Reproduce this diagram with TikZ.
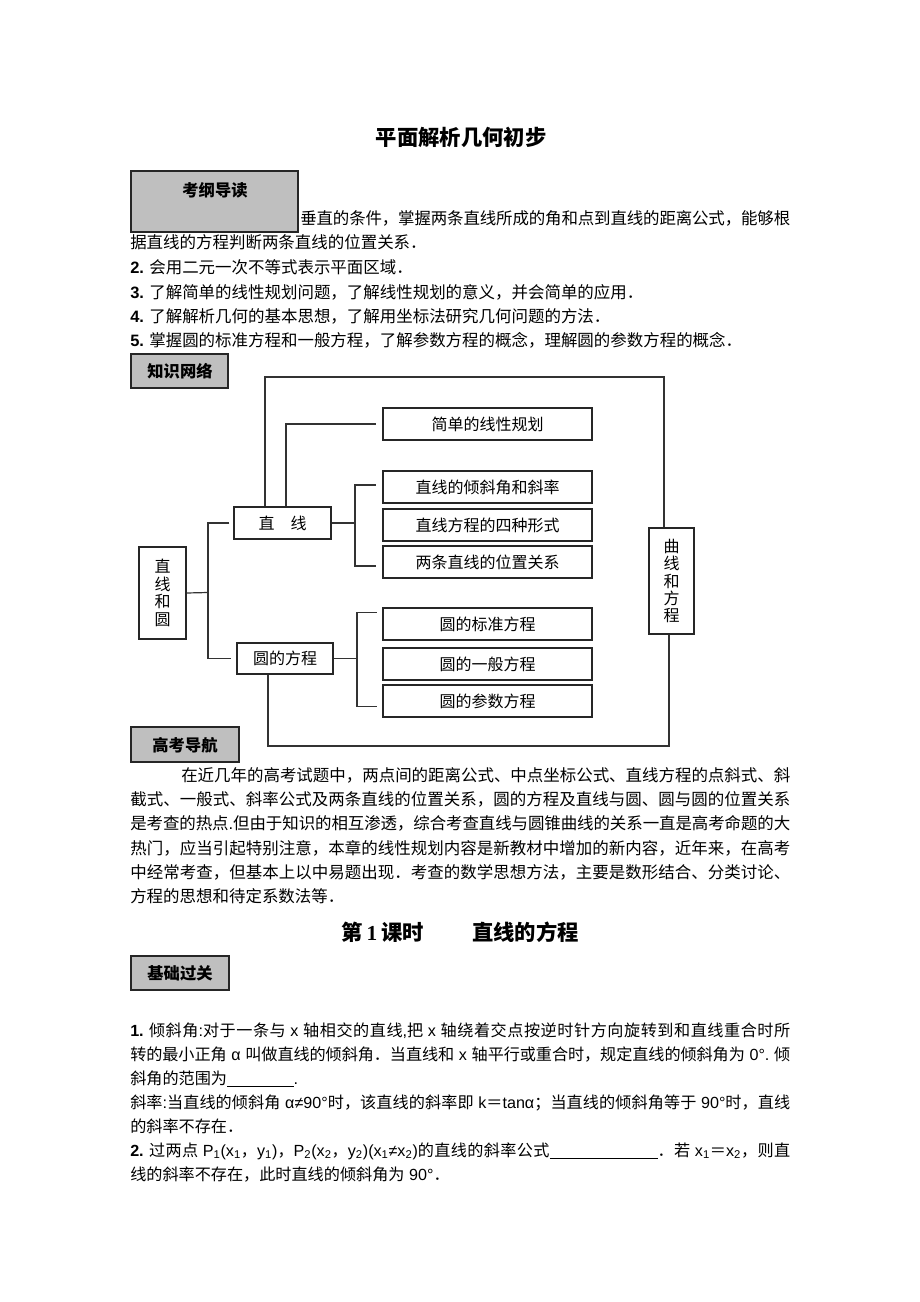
\documentclass[tikz,border=0pt]{standalone}
\usepackage{fontspec}
\setmainfont{Noto Sans CJK SC}
\newfontfamily\lat{Liberation Sans}
\newfontfamily\latserif{Liberation Serif}
\usetikzlibrary{calc,fit}
\newcommand\mycjkglue{\hskip0pt plus 1fil minus 0.5pt\relax}
\newcommand\mysp{\hspace{3.5pt}}
\newcount\mycharcnt
\mycharcnt="4E00
\loop
  \XeTeXcharclass\mycharcnt=1
  \advance\mycharcnt by 1
\ifnum\mycharcnt<"A000 \repeat
\mycharcnt="3001
\loop
  \XeTeXcharclass\mycharcnt=1
  \advance\mycharcnt by 1
\ifnum\mycharcnt<"3040 \repeat
\mycharcnt="FF01
\loop
  \XeTeXcharclass\mycharcnt=1
  \advance\mycharcnt by 1
\ifnum\mycharcnt<"FF5F \repeat
\XeTeXinterchartoks 1 1 = {\mycjkglue}
\XeTeXinterchartoks 0 1 = {\mycjkglue}
\XeTeXinterchartoks 1 0 = {\mycjkglue}
\XeTeXinterchartokenstate=1
\tikzset{
  bx/.style={draw=black!85, line width=0.9pt, inner sep=0pt},
  bxt/.style={inner sep=0pt, font=\fontsize{12}{13.1}\selectfont},
  bxv/.style={inner sep=0pt, align=center, font=\fontsize{12}{13.1}\selectfont},
  cn/.style={draw=black!80, line width=0.9pt},
  hd/.style={draw=black!85, line width=1pt, fill=black!25, inner sep=0pt},
  hdt/.style={inner sep=0pt, font=\fontsize{12.2}{14}\selectfont\bfseries},
  tl/.style={anchor=west, inner sep=0pt, font=\fontsize{12.35}{14}\selectfont,
    text height=10.8pt, text depth=1.5pt},
  tlq/.style={tl, font=\fontsize{12.1}{14}\selectfont},
  big/.style={inner sep=0pt, font=\fontsize{16}{18}\selectfont\bfseries}
}
\begin{document}
\begin{tikzpicture}[x=0.75pt,y=-0.75pt]
\fill[white] (0,0) rectangle (920,1302);
\useasboundingbox (0,0) rectangle (920,1302);

% title
\node[big] (title) at (461,137) {平面解析几何初步};

% 考纲导读
\node[tl] (k1) at (300,218) {\makebox[367.5pt][s]{垂直的条件，掌握两条直线所成的角和点到直线的距离公式，能够根}};
\node[tl] (k2) at (130,242) {据直线的方程判断两条直线的位置关系．};
\node[tl] (k3) at (130,267) {{\lat\bfseries 2.}\hspace{4pt}会用二元一次不等式表示平面区域．};
\node[tl] (k4) at (130,292) {{\lat\bfseries 3.}\hspace{4pt}了解简单的线性规划问题，了解线性规划的意义，并会简单的应用．};
\node[tl] (k5) at (130,316) {{\lat\bfseries 4.}\hspace{4pt}了解解析几何的基本思想，了解用坐标法研究几何问题的方法．};
\node[tl] (k6) at (130,340) {{\lat\bfseries 5.}\hspace{4pt}掌握圆的标准方程和一般方程，了解参数方程的概念，理解圆的参数方程的概念．};
\node[hd, fit={(131,171)(298,232)}] (hkg) {};
\node[hdt] (hkgt) at (215,190) {考纲导读};

% 知识网络
\node[hd, fit={(131,354)(228,388)}] (hzw) {};
\node[hdt] (hzwt) at (180,371) {知识网络};

\node[bx, fit={(139,547)(186,639)}] (zxhy) {};
\node[bxv] (zxhyt) at (zxhy.center) {直\\线\\和\\圆};
\node[bx, fit={(234,507)(331,539)}] (zx) {};
\node[bxt] (zxt) at (zx.center) {直\hspace{12pt}线};
\node[bx, fit={(237,643)(333,674)}] (yfc) {};
\node[bxt] (yfct) at (yfc.center) {圆的方程};
\node[bx, fit={(383,408)(592,440)}] (jd) {};
\node[bxt] (jdt) at (jd.center) {简单的线性规划};
\node[bx, fit={(383,471)(592,503)}] (qxj) {};
\node[bxt] (qxjt) at (qxj.center) {直线的倾斜角和斜率};
\node[bx, fit={(383,509)(592,541)}] (sz) {};
\node[bxt] (szt) at (sz.center) {直线方程的四种形式};
\node[bx, fit={(383,546)(592,578)}] (wz) {};
\node[bxt] (wzt) at (wz.center) {两条直线的位置关系};
\node[bx, fit={(383,608)(592,640)}] (bz) {};
\node[bxt] (bzt) at (bz.center) {圆的标准方程};
\node[bx, fit={(383,648)(592,680)}] (yb) {};
\node[bxt] (ybt) at (yb.center) {圆的一般方程};
\node[bx, fit={(383,685)(592,717)}] (cs) {};
\node[bxt] (cst) at (cs.center) {圆的参数方程};
\node[bx, fit={(649,528)(694,634)}] (qx) {};
\node[bxv] (qxt) at (qx.center) {曲\\线\\和\\方\\程};

\coordinate (b1) at (208,592.5);
\coordinate (b2) at (355,523);
\coordinate (b3) at (357,658.5);
\coordinate (c1) at (286,424);
\coordinate (t1) at (265,377);
\coordinate (t2) at (664,377);
\coordinate (u1) at (268,746);
\coordinate (u2) at (669,746);

\draw[cn] (zxhy.east) -- (b1);
\draw[cn, shorten <=3pt, shorten >=4pt] (zx.west) -| (b1) |- (yfc.west);
\draw[cn] (zx.east) -- (b2);
\draw[cn, shorten >=4.5pt] (b2) |- ($(qxj.west)+(0,-2)$);
\draw[cn, shorten >=4.5pt] (b2) |- ($(wz.west)+(0,4)$);
\draw[cn] (yfc.east) -- (b3);
\draw[cn, shorten >=4pt] (b3) |- ($(bz.north west)+(0,5)$);
\draw[cn, shorten >=4pt] (b3) |- ($(cs.south west)+(0,-11)$);
\draw[cn, shorten >=4.5pt] (c1 |- zx.north) |- (jd.west);
\draw[cn] (t1 |- zx.north) -- (t1) -- (t2) -- (t2 |- qx.north);
\draw[cn] (u1 |- yfc.south) -- (u1) -- (u2) -- (u2 |- qx.south);

% 高考导航
\node[hd, fit={(131,727)(239,762)}] (hgk) {};
\node[hdt] (hgkt) at (185,745) {高考导航};
\node[tl] (p1) at (181,775) {\makebox[456.75pt][s]{在近几年的高考试题中，两点间的距离公式、中点坐标公式、直线方程的点斜式、斜}};
\node[tl] (p2) at (130,799) {\makebox[495pt][s]{截式、一般式、斜率公式及两条直线的位置关系，圆的方程及直线与圆、圆与圆的位置关系}};
\node[tl] (p3) at (130,823) {\makebox[495pt][s]{是考查的热点{\lat .}但由于知识的相互渗透，综合考查直线与圆锥曲线的关系一直是高考命题的大}};
\node[tl] (p4) at (130,848) {\makebox[495pt][s]{热门，应当引起特别注意，本章的线性规划内容是新教材中增加的新内容，近年来，在高考}};
\node[tl] (p5) at (130,872) {\makebox[495pt][s]{中经常考查，但基本上以中易题出现．考查的数学思想方法，主要是数形结合、分类讨论、}};
\node[tl] (p6) at (130,896) {方程的思想和待定系数法等．};

% 第1课时
\node[big, anchor=west] (ks) at (341,932) {第\hspace{3pt}{\latserif\bfseries 1}\hspace{3pt}课时};
\node[big, anchor=west] (zxfc) at (472,932) {直线的方程};

% 基础过关
\node[hd, fit={(131,956)(229,990)}] (hjc) {};
\node[hdt] (hjct) at (180,973) {基础过关};
\node[tlq] (q1) at (130,1030) {\makebox[495pt][s]{{\lat\bfseries 1.}\hspace{4pt}倾斜角{\lat :}对于一条与\mysp{\lat x}\mysp 轴相交的直线{\lat ,}把\mysp{\lat x}\mysp 轴绕着交点按逆时针方向旋转到和直线重合时所}};
\node[tlq] (q2) at (130,1054) {\makebox[495pt][s]{转的最小正角\mysp{\lat α}\mysp 叫做直线的倾斜角．当直线和\mysp{\lat x}\mysp 轴平行或重合时，规定直线的倾斜角为\mysp{\lat 0°.}\mysp 倾}};
\node[tlq] (q3) at (130,1078) {斜角的范围为\rule[-2pt]{50pt}{0.6pt}{\lat .}};
\node[tlq] (q4) at (130,1102) {\makebox[495pt][s]{斜率{\lat :}当直线的倾斜角\mysp{\lat α≠90°}时，该直线的斜率即\mysp{\lat k}＝{\lat tanα}；当直线的倾斜角等于\mysp{\lat 90°}时，直线}};
\node[tlq] (q5) at (130,1126) {的斜率不存在．};
\node[tlq] (q6) at (130,1150) {\makebox[495pt][s]{{\lat\bfseries 2.}\hspace{4pt}过两点\mysp{\lat P\textsubscript{1}(x\textsubscript{1}}，{\lat y\textsubscript{1})}，{\lat P\textsubscript{2}(x\textsubscript{2}}，{\lat y\textsubscript{2})(x\textsubscript{1}≠x\textsubscript{2})}的直线的斜率公式\rule[-2pt]{81pt}{0.6pt}．若\mysp{\lat x\textsubscript{1}}＝{\lat x\textsubscript{2}}，则直}};
\node[tlq] (q7) at (130,1174) {线的斜率不存在，此时直线的倾斜角为\mysp{\lat 90°}．};
\end{tikzpicture}
\end{document}
